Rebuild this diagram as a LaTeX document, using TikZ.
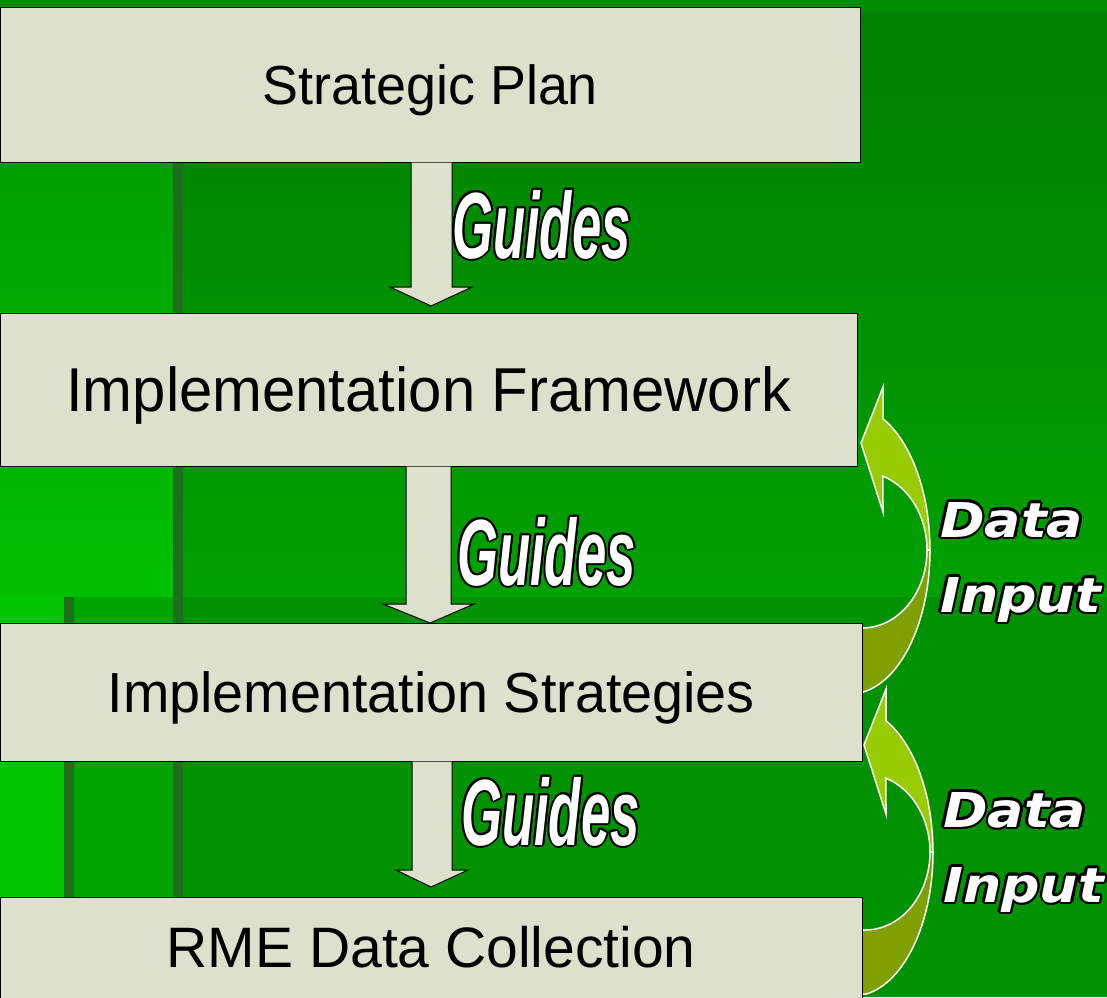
\documentclass[tikz,border=0pt]{standalone}
\usepackage{fontspec}
\setmainfont{Liberation Sans}
\newfontfamily\dfont{DejaVu Sans}[BoldItalicFont={* Bold Oblique}]
\usetikzlibrary{calc}
\definecolor{boxfill}{RGB}{221,224,204}
\definecolor{arrowlight}{RGB}{153,204,0}
\definecolor{arrowdark}{RGB}{128,160,0}
\definecolor{gtop}{RGB}{0,140,0}
\definecolor{gright1}{RGB}{0,128,0}
\definecolor{gright2}{RGB}{0,160,0}
\definecolor{gleft1}{RGB}{0,150,0}
\definecolor{gleft2}{RGB}{0,192,0}
\definecolor{glowright}{RGB}{0,146,0}
\definecolor{glowmid}{RGB}{0,165,0}
\definecolor{glowleft}{RGB}{0,198,0}
\definecolor{gstripe}{RGB}{28,112,28}
\newlength\olw
\newcommand\olcopy[2]{\rlap{\kern#1\raisebox{#2}{\copy0}}}
\newcommand\outlined[2]{\setbox0=\hbox{#2}\olw=#1\relax
  \leavevmode{\color{black}%
  \olcopy{\olw}{0pt}\olcopy{-\olw}{0pt}\olcopy{0pt}{\olw}\olcopy{0pt}{-\olw}%
  \olcopy{.707\olw}{.707\olw}\olcopy{-.707\olw}{.707\olw}\olcopy{.707\olw}{-.707\olw}\olcopy{-.707\olw}{-.707\olw}%
  \olcopy{.924\olw}{.383\olw}\olcopy{-.924\olw}{.383\olw}\olcopy{.924\olw}{-.383\olw}\olcopy{-.924\olw}{-.383\olw}%
  \olcopy{.383\olw}{.924\olw}\olcopy{-.383\olw}{.924\olw}\olcopy{.383\olw}{-.924\olw}\olcopy{-.383\olw}{-.924\olw}}%
  \color{white}\box0}
\newcommand\guidesfont{\fontsize{94}{100}\selectfont\bfseries\itshape}
\newcommand\dinfont{\dfont\fontsize{48}{52}\selectfont\bfseries\itshape}
\tikzset{
  box/.style={draw=black, line width=1pt, fill=boxfill, inner sep=0pt, text depth=0pt, anchor=center},
  downarrow/.style={fill=boxfill, draw=black, line width=1pt, line join=miter},
  guideslabel/.style={anchor=base west, inner sep=0pt},
  datalabel/.style={anchor=base west, inner sep=0pt},
  curvedarrow/.pic={
    \path[fill=arrowlight, draw=white, line width=1.5pt, line join=miter]
      (11,-107) -- (33,-163) -- (33,-131.2)
      arc[start angle=-65.6, end angle=0, x radius=80, y radius=144]
      -- (77,0)
      arc[start angle=0, end angle=-71.2, x radius=65, y radius=78]
      -- (33,-38) -- cycle;
    \path[fill=arrowdark, draw=white, line width=1.5pt]
      (80,0) arc[start angle=0, end angle=80.6, x radius=80, y radius=144]
      -- (5,142) -- (5,78) -- (12,78)
      arc[start angle=90, end angle=0, x radius=65, y radius=78]
      -- cycle;
  }
}
\begin{document}
\begin{tikzpicture}[x=1pt, y=-1pt]
\useasboundingbox (0,0) rectangle (1107,997);
\clip (0,0) rectangle (1107,997);
% background
\fill[gtop] (0,0) rectangle (1107,997);
\shade[top color=gright1, bottom color=gright2] (183,12) rectangle (1107,597);
\shade[top color=gleft1, bottom color=gleft2] (0,12) rectangle (173,597);
\fill[glowright] (183,597) rectangle (1107,997);
\fill[glowmid] (74,597) rectangle (173,997);
\fill[glowleft] (0,597) rectangle (64,997);
\fill[gstripe] (173,12) rectangle (183,997);
\fill[gstripe] (64,597) rectangle (74,997);
% curved data-input arrows
\pic at (850,550) {curvedarrow};
\pic at (853,852) {curvedarrow};
% boxes
\node[box, minimum width=859.5pt, minimum height=155pt, text height=39.4pt,
      font=\fontsize{55}{60}\selectfont] (sp) at (430.25,84.5) {\scalebox{0.98}[1]{Strategic Plan}};
\node[box, minimum width=856.5pt, minimum height=153pt, text height=44.4pt,
      font=\fontsize{62}{66}\selectfont] (if) at (428.75,389.5) {\scalebox{0.965}[1]{Implementation Framework}};
\node[box, minimum width=861.5pt, minimum height=138pt, text height=40.5pt,
      font=\fontsize{56.5}{60}\selectfont] (is) at (431.25,692) {\scalebox{0.986}[1]{Implementation Strategies}};
\node[box, minimum width=861.5pt, minimum height=101pt, text height=40.8pt,
      font=\fontsize{57}{60}\selectfont] (rme) at (431.25,947.5) {RME Data Collection};
% guides arrows
\path[downarrow] (sp.south -| 411,0) -- (411,287) -- (390,287) -- (431,306) -- (472,287) -- (452,287) -- (sp.south -| 452,0);
\path[downarrow] (if.south -| 406,0) -- (406,604) -- (383,604) -- (430,623) -- (474,604) -- (451,604) -- (if.south -| 451,0);
\path[downarrow] (is.south -| 412,0) -- (412,870) -- (396,870) -- (431,887) -- (468,870) -- (452,870) -- (is.south -| 452,0);
% labels
\node[guideslabel] (g1) at (452,258) {\outlined{2pt}{\scalebox{0.56}[1]{\guidesfont Guides}}};
\node[guideslabel] (g2) at (457,585) {\outlined{2pt}{\scalebox{0.56}[1]{\guidesfont Guides}}};
\node[guideslabel] (g3) at (461,845) {\outlined{2pt}{\scalebox{0.56}[1]{\guidesfont Guides}}};
\node[datalabel] (d1) at (940,537) {\outlined{2.5pt}{\scalebox{1.12}[1]{\dinfont Data}}};
\node[datalabel] (i1) at (940,612) {\outlined{2.5pt}{\scalebox{1.12}[1]{\dinfont Input}}};
\node[datalabel] (d2) at (943,827) {\outlined{2.5pt}{\scalebox{1.12}[1]{\dinfont Data}}};
\node[datalabel] (i2) at (943,902) {\outlined{2.5pt}{\scalebox{1.12}[1]{\dinfont Input}}};
\end{tikzpicture}
\end{document}
